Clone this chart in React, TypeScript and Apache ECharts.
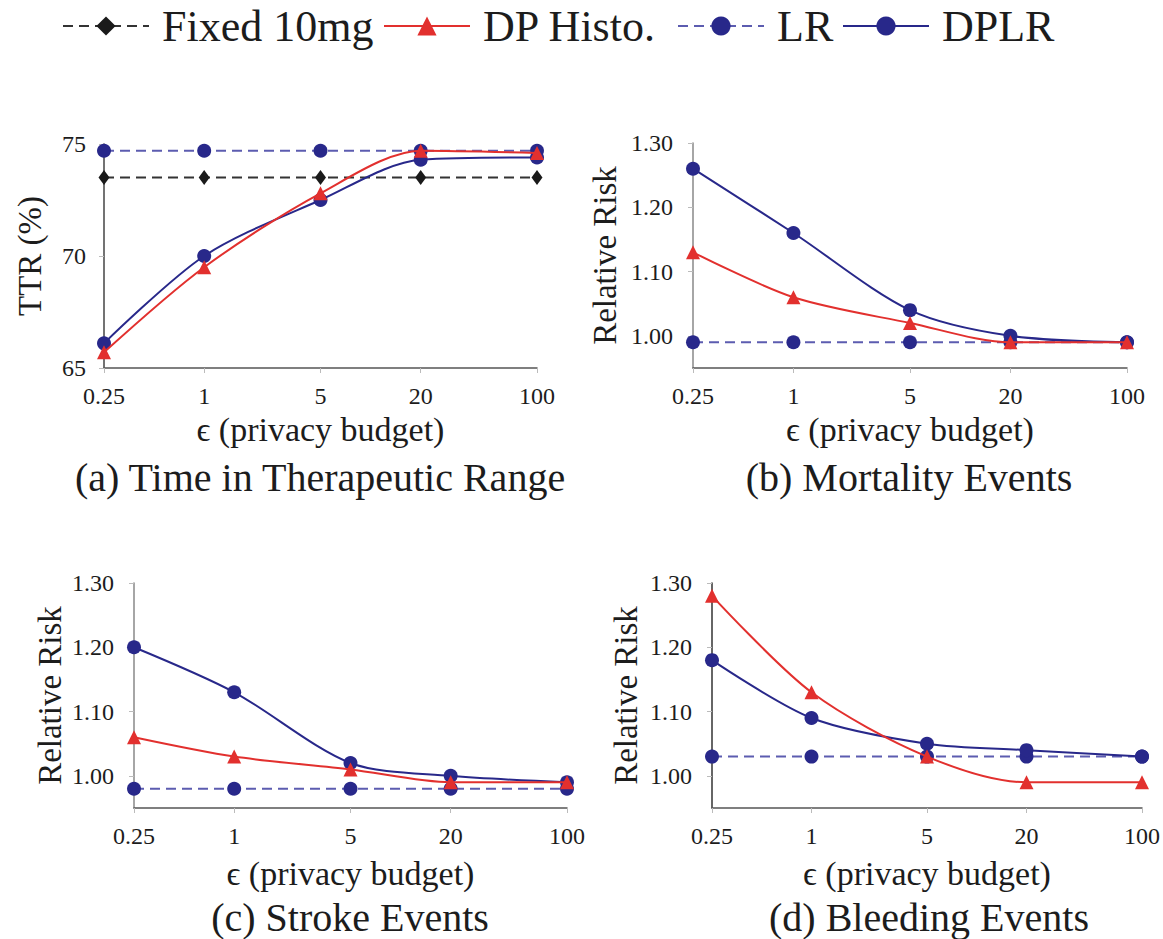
import React, { useEffect, useRef } from 'react';
import * as echarts from 'echarts';

// ---- data ----
const epsilonTicks = [0.25, 1, 5, 20, 100];
const epsilonLabels = ['0.25', '1', '5', '20', '100'];

const ttrFixed = [73.5, 73.5, 73.5, 73.5, 73.5];
const ttrDpHisto = [65.7, 69.5, 72.8, 74.7, 74.6];
const ttrLr = [74.7, 74.7, 74.7, 74.7, 74.7];
const ttrDplr = [66.1, 70.0, 72.5, 74.3, 74.4];

const mortDpHisto = [1.13, 1.06, 1.02, 0.99, 0.99];
const mortLr = [0.99, 0.99, 0.99, 0.99, 0.99];
const mortDplr = [1.26, 1.16, 1.04, 1.0, 0.99];

const strokeDpHisto = [1.06, 1.03, 1.01, 0.99, 0.99];
const strokeLr = [0.98, 0.98, 0.98, 0.98, 0.98];
const strokeDplr = [1.2, 1.13, 1.02, 1.0, 0.99];

const bleedDpHisto = [1.28, 1.13, 1.03, 0.99, 0.99];
const bleedLr = [1.03, 1.03, 1.03, 1.03, 1.03];
const bleedDplr = [1.18, 1.09, 1.05, 1.04, 1.03];

const rrTicks = [1.0, 1.1, 1.2, 1.3];

const seriesNames = ['Fixed 10mg', 'DP Histo.', 'LR', 'DPLR'];
const panelTitles = [
  '(a) Time in Therapeutic Range',
  '(b) Mortality Events',
  '(c) Stroke Events',
  '(d) Bleeding Events',
];
const xAxisTitle = '\u03F5 (privacy budget)';
const yAxisTitles = ['TTR (%)', 'Relative Risk', 'Relative Risk', 'Relative Risk'];

// ---- layout / style ----
const FONT = "'Liberation Serif', 'DejaVu Serif', serif";
const TEXT = '#1c1c1c';
const NAVY = '#28288a';
const NAVY_LIGHT = '#5c5cb0';
const RED = '#e2302e';
const BLACK = '#1a1a1a';
const DASH = [10, 6];

const grids = [
  { left: 104, top: 144, width: 433, height: 224 },
  { left: 693, top: 143, width: 434, height: 225 },
  { left: 134, top: 583, width: 433, height: 225 },
  { left: 712, top: 583, width: 434, height: 225 },
];
const yNameGaps = [58, 72, 68, 70];
const xNameGaps = [44, 44, 48, 48];
const axisDark = ['#444', '#888', '#888', '#333'];
const captionPos = [
  [320, 477],
  [909, 477],
  [350, 917],
  [929, 917],
];
const legendLefts = [62, 383, 677, 842];

type Kind = 'fixed' | 'histo' | 'lr' | 'dplr';

function makeSeries(kind: Kind, grid: number, ys: number[]) {
  const data = epsilonTicks.map((e, i) => [e, ys[i]]);
  const base: any = {
    type: 'line',
    xAxisIndex: grid * 2 + 1,
    yAxisIndex: grid,
    data,
    animation: false,
    emphasis: { disabled: true },
  };
  if (kind === 'fixed') {
    return {
      ...base,
      name: seriesNames[0],
      z: 2,
      symbol: 'diamond',
      symbolSize: [11, 15],
      itemStyle: { color: BLACK },
      lineStyle: { color: '#333', width: 2, type: DASH },
    };
  }
  if (kind === 'histo') {
    return {
      ...base,
      name: seriesNames[1],
      z: 5,
      smooth: 0.3,
      symbol: 'triangle',
      symbolSize: 14,
      itemStyle: { color: RED },
      lineStyle: { color: RED, width: 2 },
    };
  }
  if (kind === 'lr') {
    return {
      ...base,
      name: seriesNames[2],
      z: 3,
      symbol: 'circle',
      symbolSize: 14,
      itemStyle: { color: NAVY },
      lineStyle: { color: NAVY_LIGHT, width: 2, type: DASH },
    };
  }
  return {
    ...base,
    name: seriesNames[3],
    z: 4,
    smooth: 0.3,
    symbol: 'circle',
    symbolSize: 14,
    itemStyle: { color: NAVY },
    lineStyle: { color: NAVY, width: 2 },
  };
}

function buildOption() {
  const logTicks = epsilonTicks.map((e) => Math.log10(e));
  const epsLabel = (v: number) => {
    const i = logTicks.findIndex((t) => Math.abs(t - v) < 1e-6);
    return i >= 0 ? epsilonLabels[i] : '';
  };

  const xAxis: any[] = [];
  grids.forEach((_, g) => {
    xAxis.push({
      type: 'value',
      gridIndex: g,
      position: 'bottom',
      min: Math.log10(epsilonTicks[0]),
      max: Math.log10(epsilonTicks[epsilonTicks.length - 1]),
      axisLine: { show: true, onZero: false, lineStyle: { color: '#555', width: 1.5 } },
      axisTick: { show: true, customValues: logTicks, length: 5, lineStyle: { color: '#bbb' } },
      axisLabel: {
        customValues: logTicks,
        formatter: (v: number) => epsLabel(v),
        fontFamily: FONT,
        fontSize: 24,
        color: TEXT,
        margin: 16,
      },
      splitLine: { show: false },
      name: xAxisTitle,
      nameLocation: 'middle',
      nameGap: xNameGaps[g],
      nameTextStyle: { fontFamily: FONT, fontSize: 34, color: TEXT },
    });
    xAxis.push({
      type: 'log',
      logBase: 10,
      gridIndex: g,
      position: 'top',
      min: epsilonTicks[0],
      max: epsilonTicks[epsilonTicks.length - 1],
      show: false,
    });
  });

  const yAxis: any[] = grids.map((_, g) => {
    const common: any = {
      type: 'value',
      gridIndex: g,
      axisLine: { show: true, onZero: false, lineStyle: { color: axisDark[g], width: 1.5 } },
      splitLine: { show: false },
      name: yAxisTitles[g],
      nameLocation: 'middle',
      nameGap: yNameGaps[g],
      nameTextStyle: { fontFamily: FONT, fontSize: 33, color: TEXT },
    };
    if (g === 0) {
      return {
        ...common,
        min: 65,
        max: 75,
        interval: 5,
        axisTick: { show: true, length: 5, lineStyle: { color: '#bbb' } },
        axisLabel: { fontFamily: FONT, fontSize: 24, color: TEXT, margin: 18 },
      };
    }
    return {
      ...common,
      min: 0.95,
      max: 1.3,
      axisTick: { show: true, customValues: rrTicks, length: 5, lineStyle: { color: '#bbb' } },
      axisLabel: {
        customValues: rrTicks,
        formatter: (v: number) => v.toFixed(2),
        fontFamily: FONT,
        fontSize: 24,
        color: TEXT,
        margin: 20,
      },
    };
  });

  const series: any[] = [
    makeSeries('fixed', 0, ttrFixed),
    makeSeries('lr', 0, ttrLr),
    makeSeries('dplr', 0, ttrDplr),
    makeSeries('histo', 0, ttrDpHisto),
    makeSeries('lr', 1, mortLr),
    makeSeries('dplr', 1, mortDplr),
    makeSeries('histo', 1, mortDpHisto),
    makeSeries('lr', 2, strokeLr),
    makeSeries('dplr', 2, strokeDplr),
    makeSeries('histo', 2, strokeDpHisto),
    makeSeries('lr', 3, bleedLr),
    makeSeries('dplr', 3, bleedDplr),
    makeSeries('histo', 3, bleedDpHisto),
  ];

  const legend = seriesNames.map((name, i) => ({
    data: [name],
    left: legendLefts[i],
    top: 4,
    padding: 0,
    itemWidth: 86,
    itemHeight: 24,
    selectedMode: false,
    textStyle: { fontFamily: FONT, fontSize: 44, color: TEXT, padding: [0, 0, 0, 8] },
  }));

  return {
    animation: false,
    backgroundColor: '#ffffff',
    legend,
    grid: grids.map((g) => ({ ...g, containLabel: false })),
    xAxis,
    yAxis,
    series,
    graphic: panelTitles.map((t, i) => ({
      type: 'text',
      x: captionPos[i][0],
      y: captionPos[i][1],
      style: {
        text: t,
        fontFamily: FONT,
        fontSize: 40,
        fill: TEXT,
        align: 'center',
        verticalAlign: 'middle',
      },
    })),
  };
}

export default function App() {
  const ref = useRef<HTMLDivElement>(null);
  useEffect(() => {
    document.body.style.margin = '0';
    if (!ref.current) return;
    const chart = echarts.init(ref.current, null, { renderer: 'svg' });
    chart.setOption(buildOption() as any);
    return () => chart.dispose();
  }, []);
  return <div ref={ref} style={{ width: 1163, height: 939 }} />;
}
